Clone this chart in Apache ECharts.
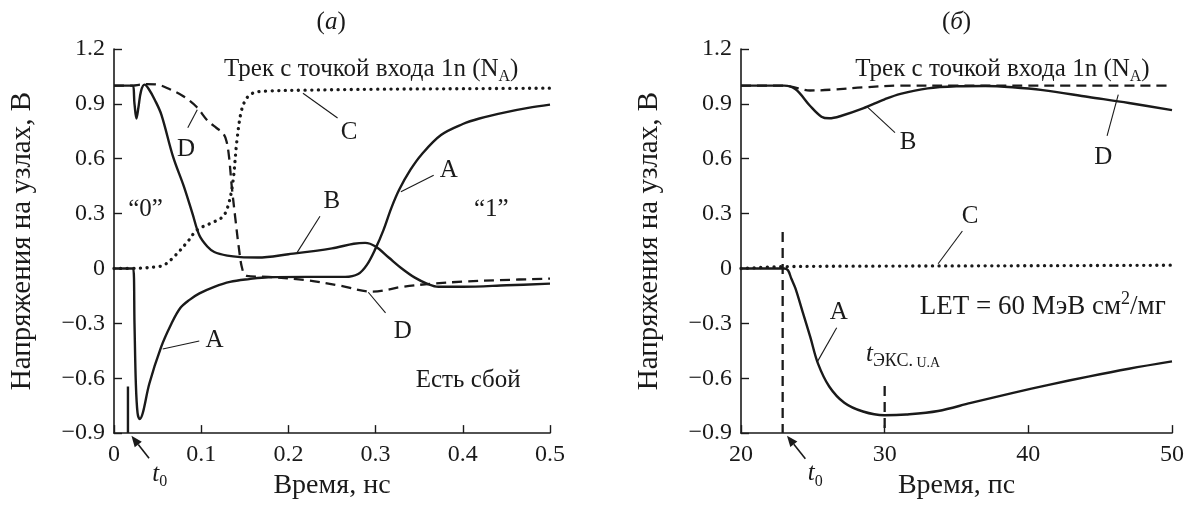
<!DOCTYPE html>
<html>
<head>
<meta charset="utf-8">
<title>Напряжения на узлах</title>
<script src="https://cdn.jsdelivr.net/npm/echarts@6/dist/echarts.min.js"></script>
<style>
  html, body { margin: 0; padding: 0; background: #fff; }
  #chart { width: 1190px; height: 505px; }
</style>
</head>
<body>
<div id="chart"></div>
<script>
// ---- panel (а): time in ns, voltage in V ----
var aTimeA = [0, 0.022, 0.0235, 0.025, 0.027, 0.0295, 0.033, 0.0405, 0.054, 0.065, 0.076, 0.087, 0.098, 0.115, 0.133, 0.155, 0.177, 0.22, 0.265, 0.28, 0.29, 0.3, 0.309, 0.318, 0.327, 0.34, 0.353, 0.375, 0.4, 0.419, 0.45, 0.475, 0.5];
var aVoltA = [0, 0, -0.3, -0.62, -0.79, -0.823, -0.79, -0.63, -0.43, -0.31, -0.216, -0.17, -0.136, -0.1, -0.073, -0.058, -0.048, -0.046, -0.046, -0.03, 0.02, 0.11, 0.21, 0.33, 0.43, 0.54, 0.625, 0.73, 0.79, 0.82, 0.855, 0.878, 0.896];

var aTimeB = [0, 0.021, 0.0235, 0.0257, 0.028, 0.031, 0.035, 0.04, 0.047, 0.0544, 0.0678, 0.08, 0.09, 0.098, 0.107, 0.115, 0.13, 0.145, 0.165, 0.2, 0.25, 0.275, 0.288, 0.3, 0.315, 0.33, 0.345, 0.36, 0.372, 0.4, 0.45, 0.5];
var aVoltB = [1.0, 1.0, 0.9, 0.82, 0.88, 0.97, 1.005, 0.98, 0.92, 0.84, 0.61, 0.45, 0.3, 0.18, 0.12, 0.09, 0.07, 0.062, 0.06, 0.078, 0.11, 0.135, 0.14, 0.12, 0.06, 0.0, -0.05, -0.085, -0.1, -0.1, -0.092, -0.083];

var aTimeC = [0, 0.03, 0.05, 0.058, 0.07, 0.085, 0.095, 0.11, 0.124, 0.13, 0.136, 0.141, 0.146, 0.152, 0.16, 0.175, 0.22, 0.3, 0.4, 0.5];
var aVoltC = [0, 0.002, 0.01, 0.02, 0.07, 0.15, 0.21, 0.245, 0.28, 0.33, 0.46, 0.7, 0.86, 0.93, 0.96, 0.97, 0.975, 0.98, 0.983, 0.986];

var aTimeD = [0, 0.021, 0.03, 0.037, 0.05, 0.064, 0.08, 0.0946, 0.107, 0.1176, 0.125, 0.129, 0.132, 0.135, 0.139, 0.143, 0.147, 0.152, 0.177, 0.221, 0.26, 0.296, 0.331, 0.367, 0.4, 0.441, 0.5];
var aVoltD = [1.0, 1.0, 1.005, 1.008, 1.005, 0.98, 0.94, 0.884, 0.81, 0.768, 0.74, 0.696, 0.607, 0.45, 0.28, 0.12, 0.0, -0.04, -0.046, -0.064, -0.095, -0.127, -0.1, -0.082, -0.072, -0.064, -0.055];

var aT0 = 0.016;                 // t0 marker
var aT0Volt = [-0.645, -0.9];

// ---- panel (б): time in ps ----
var bTimeA = [20, 23, 23.27, 23.5, 23.79, 24.3, 24.83, 25.36, 26.14, 27.19, 28.49, 29.98, 31.5, 33.72, 36, 38.94, 41.5, 44.17, 47, 50];
var bVoltA = [0, 0, -0.01, -0.055, -0.109, -0.24, -0.377, -0.52, -0.645, -0.734, -0.782, -0.802, -0.798, -0.779, -0.735, -0.68, -0.635, -0.591, -0.548, -0.508];

var bTimeB = [20, 23, 23.8, 24.8, 25.6, 26.14, 27, 28.49, 30, 31.1, 33, 35, 37, 38.9, 41, 44.2, 47, 50];
var bVoltB = [1, 1, 0.98, 0.89, 0.83, 0.821, 0.835, 0.875, 0.925, 0.955, 0.985, 0.996, 0.998, 0.991, 0.975, 0.9375, 0.905, 0.866];

var bTimeC = [20, 23, 30, 40, 50];
var bVoltC = [0, 0.01, 0.013, 0.015, 0.018];

var bTimeD = [20, 23, 24, 24.8, 26.4, 28.5, 31.1, 35, 40, 50];
var bVoltD = [1, 1, 0.985, 0.973, 0.978, 0.99, 1.0, 1.0, 1.0, 1.0];

var bT0 = 22.9;
var bT0Volt = [0.2, -0.9];
var bTExc = 30;
var bTExcVolt = [-0.643, -0.9];

// tick ranges
var aXTicks = { min: 0, max: 0.5, interval: 0.1 };
var bXTicks = { min: 20, max: 50, interval: 10 };
var yTicks = { min: -0.9, max: 1.2, interval: 0.3 };

var FONT = '"Liberation Serif", "Times New Roman", serif';
var INK = '#1a1a1a';

function pairs(xs, ys) {
  return xs.map(function (x, i) { return [x, ys[i]]; });
}

function fmt(v) {
  if (Math.abs(v) < 1e-9) return '0';
  return String(Math.round(v * 100) / 100).replace('-', '\u2212');
}

function xAxis(grid, t, name) {
  return {
    type: 'value', gridIndex: grid, min: t.min, max: t.max, interval: t.interval,
    name: name, nameLocation: 'middle', nameGap: 36,
    nameTextStyle: { fontFamily: FONT, fontSize: 28, color: INK },
    axisLine: { onZero: false, lineStyle: { color: INK, width: 1.6 } },
    axisTick: { inside: true, length: 8, lineStyle: { color: INK, width: 1.4 } },
    axisLabel: { fontFamily: FONT, fontSize: 24, color: INK, margin: 10, formatter: fmt },
    splitLine: { show: false }
  };
}

function yAxis(grid) {
  return {
    type: 'value', gridIndex: grid, min: yTicks.min, max: yTicks.max, interval: yTicks.interval,
    name: 'Напряжения на узлах, В', nameLocation: 'middle', nameGap: 77,
    nameTextStyle: { fontFamily: FONT, fontSize: 29, color: INK },
    axisLine: { onZero: false, lineStyle: { color: INK, width: 1.6 } },
    axisTick: { inside: true, length: 8, lineStyle: { color: INK, width: 1.4 } },
    axisLabel: { fontFamily: FONT, fontSize: 24, color: INK, margin: 9, formatter: fmt },
    splitLine: { show: false }
  };
}

var solid = { color: INK, width: 2.4 };
var dashed = { color: INK, width: 2.3, type: [10, 6] };
var dotted = { color: INK, width: 3.3, type: [0.1, 6.5], cap: 'round' };

function line(grid, data, style, smooth) {
  return {
    type: 'line', xAxisIndex: grid, yAxisIndex: grid, data: data,
    showSymbol: false, symbol: 'none', silent: true,
    smooth: smooth ? 0.35 : false,
    lineStyle: style
  };
}

var chart = echarts.init(document.getElementById('chart'));

var option = {
  animation: false,
  backgroundColor: '#fff',
  grid: [
    { left: 114, right: 640, top: 49, bottom: 65 },
    { left: 741, right: 18, top: 49, bottom: 65 }
  ],
  xAxis: [xAxis(0, aXTicks, 'Время, нс'), xAxis(1, bXTicks, 'Время, пс')],
  yAxis: [yAxis(0), yAxis(1)],
  series: [
    line(0, pairs(aTimeA, aVoltA), solid, true),
    line(0, pairs(aTimeB, aVoltB), solid, true),
    line(0, pairs(aTimeC, aVoltC), dotted, true),
    line(0, pairs(aTimeD, aVoltD), dashed, true),
    line(0, [[aT0, aT0Volt[0]], [aT0, aT0Volt[1]]], solid, false),
    line(1, pairs(bTimeA, bVoltA), solid, true),
    line(1, pairs(bTimeB, bVoltB), solid, true),
    line(1, pairs(bTimeC, bVoltC), dotted, true),
    line(1, pairs(bTimeD, bVoltD), dashed, true),
    line(1, [[bT0, bT0Volt[0]], [bT0, bT0Volt[1]]], dashed, false),
    line(1, [[bTExc, bTExcVolt[0]], [bTExc, bTExcVolt[1]]], dashed, false)
  ]
};
chart.setOption(option);

// ---- annotations, placed in data coordinates ----
var rich = {
  i: { fontFamily: FONT, fontSize: 25, fontStyle: 'italic', fill: INK, lineHeight: 32 },
  n: { fontFamily: FONT, fontSize: 25, fill: INK, lineHeight: 32 },
  m: { fontFamily: FONT, fontSize: 27, fill: INK, lineHeight: 32 },
  sub: { fontFamily: FONT, fontSize: 16, fill: INK, verticalAlign: 'bottom', lineHeight: 16 },
  sub2: { fontFamily: FONT, fontSize: 18, fill: INK, verticalAlign: 'bottom', lineHeight: 17 },
  sub3: { fontFamily: FONT, fontSize: 14, fill: INK, verticalAlign: 'bottom', lineHeight: 16 },
  sup: { fontFamily: FONT, fontSize: 18, fill: INK, verticalAlign: 'top', lineHeight: 18 }
};
var track = '{n|Трек с точкой входа 1n (N}{sub|A}{n|)}';

var labels = [
  // grid, text, [x, y], align
  [0, '{n|(}{i|а}{n|)}', [0.249, 1.345], 'center'],
  [0, track, [0.295, 1.09], 'center'],
  [0, '{n|D}', [0.0825, 0.651], 'center'],
  [0, '{n|C}', [0.2695, 0.743], 'center'],
  [0, '{n|A}', [0.384, 0.537], 'center'],
  [0, '{n|B}', [0.2498, 0.366], 'center'],
  [0, '{n|\u201C0\u201D}', [0.0362, 0.322], 'center'],
  [0, '{n|\u201C1\u201D}', [0.4326, 0.322], 'center'],
  [0, '{n|A}', [0.1154, -0.396], 'center'],
  [0, '{n|D}', [0.3313, -0.342], 'center'],
  [0, '{n|Есть сбой}', [0.4062, -0.611], 'center'],
  [0, '{i|t}{sub|0}', [0.0525, -1.125], 'center'],
  [1, '{n|(}{i|б}{n|)}', [35, 1.345], 'center'],
  [1, track, [38.2, 1.09], 'center'],
  [1, '{n|B}', [31.63, 0.689], 'center'],
  [1, '{n|D}', [45.22, 0.608], 'center'],
  [1, '{n|C}', [35.94, 0.286], 'center'],
  [1, '{m|LET = 60 МэВ см}{sup|2}{m|/мг}', [41.0, -0.208], 'center'],
  [1, '{n|A}', [26.8, -0.243], 'center'],
  [1, '{i|t}{sub2|ЭКС.}{sub3| U.A}', [28.7, -0.47], 'left'],
  [1, '{i|t}{sub|0}', [25.17, -1.12], 'center']
];

var leaders = [
  [0, [0.0846, 0.77], [0.0955, 0.868]],
  [0, [0.2564, 0.823], [0.2167, 0.958]],
  [0, [0.3666, 0.51], [0.329, 0.42]],
  [0, [0.2362, 0.286], [0.2101, 0.088]],
  [0, [0.0978, -0.396], [0.0559, -0.44]],
  [0, [0.3114, -0.243], [0.2916, -0.13]],
  [1, [30.72, 0.743], [28.75, 0.886]],
  [1, [45.48, 0.725], [46.26, 0.95]],
  [1, [35.41, 0.205], [33.72, 0.026]],
  [1, [26.66, -0.324], [25.3, -0.512]]
];

var arrows = [
  [0, [0.0402, -1.037], [0.02, -0.915]],
  [1, [24.48, -1.04], [23.2, -0.914]]
];

function px(grid, pt) {
  return chart.convertToPixel({ gridIndex: grid }, pt);
}

var graphics = [];
labels.forEach(function (l) {
  var p = px(l[0], l[2]);
  graphics.push({
    type: 'text', x: p[0], y: p[1], silent: true,
    style: { text: l[1], rich: rich, align: l[3], verticalAlign: 'middle', fill: INK }
  });
});
leaders.forEach(function (l) {
  var a = px(l[0], l[1]), b = px(l[0], l[2]);
  graphics.push({
    type: 'line', silent: true,
    shape: { x1: a[0], y1: a[1], x2: b[0], y2: b[1] },
    style: { stroke: INK, lineWidth: 1.1 }
  });
});
arrows.forEach(function (l) {
  var a = px(l[0], l[1]), b = px(l[0], l[2]);
  var dx = b[0] - a[0], dy = b[1] - a[1];
  var len = Math.sqrt(dx * dx + dy * dy);
  var ux = dx / len, uy = dy / len;
  var hl = 11, hw = 4.5;
  var bx = b[0] - ux * hl, by = b[1] - uy * hl;
  graphics.push({
    type: 'line', silent: true,
    shape: { x1: a[0], y1: a[1], x2: bx, y2: by },
    style: { stroke: INK, lineWidth: 1.6 }
  });
  graphics.push({
    type: 'polygon', silent: true,
    shape: { points: [[b[0], b[1]], [bx - uy * hw, by + ux * hw], [bx + uy * hw, by - ux * hw]] },
    style: { fill: INK }
  });
});

chart.setOption({ graphic: graphics });
</script>
</body>
</html>
